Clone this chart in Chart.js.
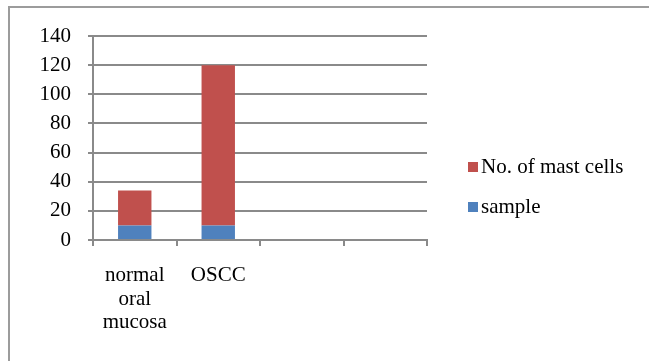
<!DOCTYPE html>
<html>
<head>
<meta charset="utf-8">
<script src="https://cdn.jsdelivr.net/npm/chart.js@4/dist/chart.umd.min.js"></script>
<style>
  html, body { margin: 0; padding: 0; background: #fff; }
  #wrap { width: 649px; height: 361px; position: relative; }
</style>
</head>
<body>
<div id="wrap"><canvas id="c" width="649" height="361"></canvas></div>
<script>
// Categories (multi-line labels) and series
const categories = [['normal', 'oral', 'mucosa'], 'OSCC', '', ''];
const sampleValues = [10, 10, null, null];
const mastCellValues = [24, 110, null, null];
const yTicks = [0, 20, 40, 60, 80, 100, 120, 140];

const seriesNames = ['sample', 'No. of mast cells'];
const seriesColors = ['#4F81BD', '#C0504D'];

const FONT = 'Liberation Serif, Times New Roman, serif';
const GRID = '#8a8a8a';

// Outer frame around the whole chart
const framePlugin = {
  id: 'frame',
  beforeDraw(chart) {
    const ctx = chart.ctx;
    ctx.save();
    ctx.fillStyle = '#fff';
    ctx.fillRect(0, 0, chart.width, chart.height);
    ctx.strokeStyle = '#9c9c9c';
    ctx.lineWidth = 2;
    ctx.beginPath();
    ctx.moveTo(9, chart.height + 2);
    ctx.lineTo(9, 7);
    ctx.lineTo(chart.width + 2, 7);
    ctx.stroke();
    ctx.restore();
  }
};

// Legend on the right, listing the top series first
const sideLegend = {
  id: 'sideLegend',
  afterDraw(chart) {
    const ctx = chart.ctx;
    const sets = chart.data.datasets.slice().reverse();
    const boxX = chart.chartArea.right + 41;
    const firstBaseline = 173;
    const step = 40;
    ctx.save();
    ctx.font = '21px ' + FONT;
    ctx.textBaseline = 'alphabetic';
    ctx.textAlign = 'left';
    sets.forEach((ds, i) => {
      const base = firstBaseline + i * step;
      ctx.fillStyle = ds.backgroundColor;
      ctx.fillRect(boxX, base - 11, 10, 10);
      ctx.fillStyle = '#000';
      ctx.fillText(ds.label, boxX + 13, base);
    });
    ctx.restore();
  }
};

new Chart(document.getElementById('c'), {
  type: 'bar',
  data: {
    labels: categories,
    datasets: [
      { label: seriesNames[0], data: sampleValues, backgroundColor: seriesColors[0] },
      { label: seriesNames[1], data: mastCellValues, backgroundColor: seriesColors[1] }
    ]
  },
  options: {
    responsive: false,
    animation: false,
    devicePixelRatio: 1,
    layout: { padding: { top: 36, right: 222, bottom: 0, left: 0 } },
    datasets: { bar: { barPercentage: 0.4, categoryPercentage: 1.0 } },
    plugins: {
      legend: { display: false },
      tooltip: { enabled: false },
      title: { display: false }
    },
    scales: {
      x: {
        stacked: true,
        offset: true,
        grid: {
          offset: true,
          drawOnChartArea: false,
          drawTicks: true,
          tickLength: 6,
          color: GRID,
          lineWidth: 2
        },
        border: { display: true, color: GRID, width: 2 },
        ticks: {
          color: '#000',
          padding: 18,
          maxRotation: 0,
          autoSkip: false,
          font: { family: FONT, size: 21, lineHeight: 1.12 }
        },
        afterFit(scale) { scale.height = 121; }
      },
      y: {
        stacked: true,
        min: yTicks[0],
        max: yTicks[yTicks.length - 1],
        grid: {
          color: GRID,
          lineWidth: 2,
          drawTicks: true,
          tickLength: 5
        },
        border: { display: true, color: GRID, width: 2 },
        ticks: {
          stepSize: yTicks[1] - yTicks[0],
          color: '#000',
          padding: 17,
          font: { family: FONT, size: 21 }
        },
        afterFit(scale) { scale.width = 93; }
      }
    }
  },
  plugins: [framePlugin, sideLegend]
});
</script>
</body>
</html>
